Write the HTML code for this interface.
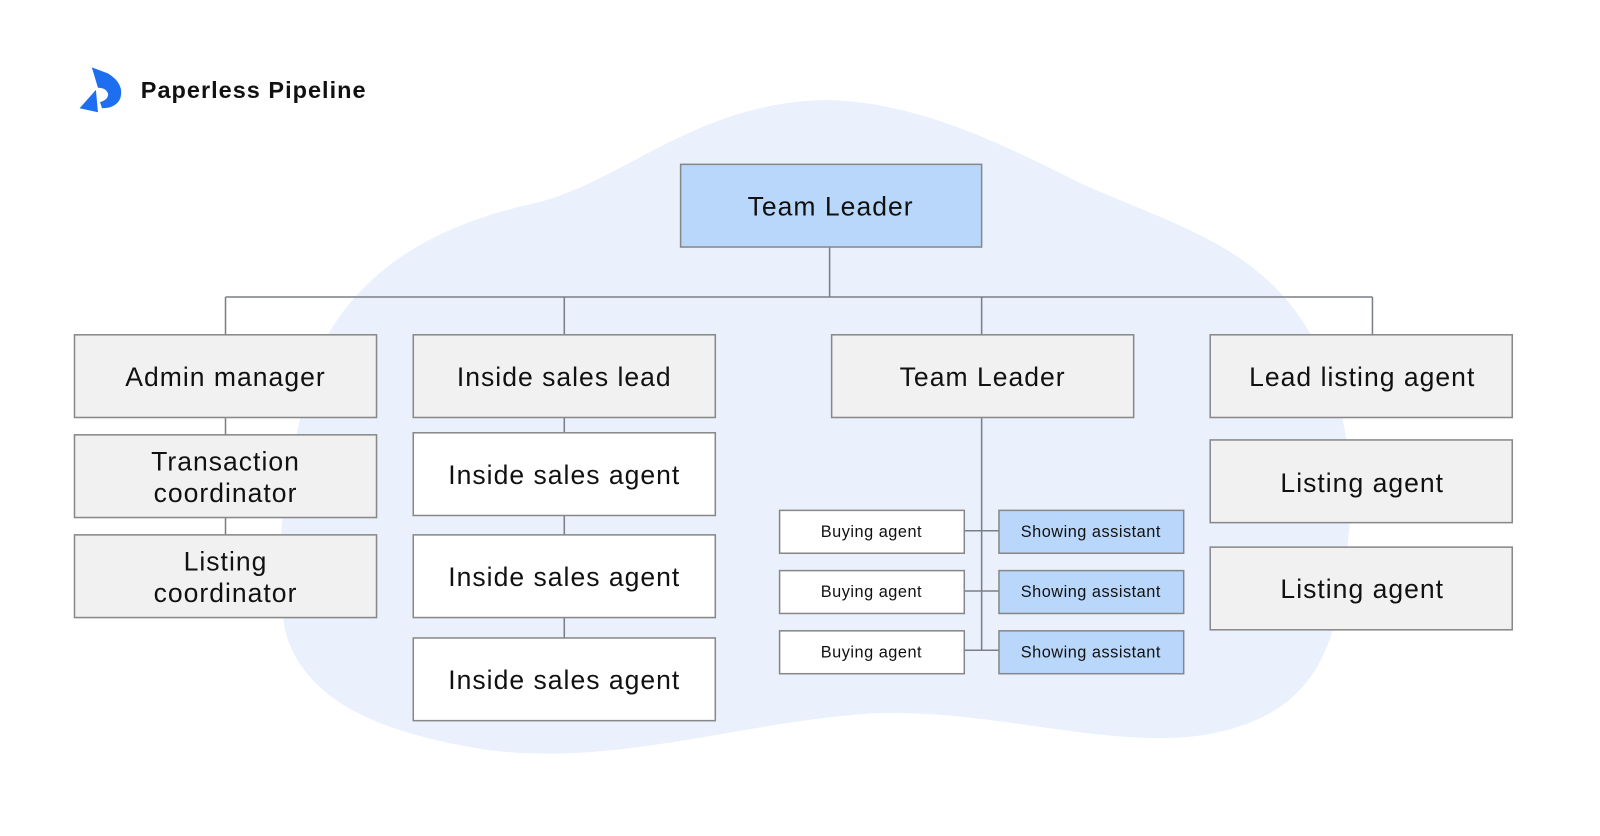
<!DOCTYPE html>
<html><head><meta charset="utf-8"><style>
html,body{margin:0;padding:0;background:#fff;}
svg{display:block}
text{font-family:"Liberation Sans",sans-serif;fill:#111;}
</style></head><body>
<svg width="1600" height="836" viewBox="0 0 1568 819" preserveAspectRatio="none" xmlns="http://www.w3.org/2000/svg">
<path d="M810 98 C900 100 980 140 1060 180 C1150 220 1230 240 1280 320 C1320 390 1330 460 1320 540 C1310 620 1300 700 1180 720 C1080 735 960 690 840 700 C720 710 600 750 480 735 C380 720 300 690 280 620 C265 550 280 430 320 330 C360 260 430 220 520 200 C610 180 680 100 810 98 Z" fill="#eaf1fd"/>
<g stroke="#7a7f87" stroke-width="1.5" fill="none">
<line x1="813" y1="242" x2="813" y2="291"/>
<line x1="221" y1="291" x2="1345" y2="291"/>
<line x1="221" y1="291" x2="221" y2="328"/>
<line x1="553" y1="291" x2="553" y2="328"/>
<line x1="962" y1="291" x2="962" y2="328"/>
<line x1="1345" y1="291" x2="1345" y2="328"/>
<line x1="221" y1="409" x2="221" y2="524"/>
<line x1="553" y1="409" x2="553" y2="625"/>
<line x1="962" y1="409" x2="962" y2="637"/>
<line x1="945" y1="520" x2="979" y2="520"/>
<line x1="945" y1="579" x2="979" y2="579"/>
<line x1="945" y1="637" x2="979" y2="637"/>
</g>
<g stroke="#888" stroke-width="1.5">
<rect x="667" y="161" width="295" height="81" fill="#b9d7fb"/>
<rect x="73" y="328" width="296" height="81" fill="#f1f1f1"/>
<rect x="405" y="328" width="296" height="81" fill="#f1f1f1"/>
<rect x="815" y="328" width="296" height="81" fill="#f1f1f1"/>
<rect x="1186" y="328" width="296" height="81" fill="#f1f1f1"/>
<rect x="73" y="426" width="296" height="81" fill="#f1f1f1"/>
<rect x="73" y="524" width="296" height="81" fill="#f1f1f1"/>
<rect x="405" y="424" width="296" height="81" fill="#fff"/>
<rect x="405" y="524" width="296" height="81" fill="#fff"/>
<rect x="405" y="625" width="296" height="81" fill="#fff"/>
<rect x="1186" y="431" width="296" height="81" fill="#f1f1f1"/>
<rect x="1186" y="536" width="296" height="81" fill="#f1f1f1"/>
<rect x="764" y="500" width="181" height="42" fill="#fff"/>
<rect x="764" y="559" width="181" height="42" fill="#fff"/>
<rect x="764" y="618" width="181" height="42" fill="#fff"/>
<rect x="979" y="500" width="181" height="42" fill="#b9d7fb"/>
<rect x="979" y="559" width="181" height="42" fill="#b9d7fb"/>
<rect x="979" y="618" width="181" height="42" fill="#b9d7fb"/>
</g>
<g font-size="26" text-anchor="middle" style="letter-spacing:1px">
<text x="814" y="211">Team Leader</text>
<text x="221" y="378">Admin manager</text>
<text x="553" y="378">Inside sales lead</text>
<text x="963" y="378">Team Leader</text>
<text x="1335" y="378">Lead listing agent</text>
<text x="221" y="461">Transaction</text>
<text x="221" y="492">coordinator</text>
<text x="221" y="559">Listing</text>
<text x="221" y="590">coordinator</text>
<text x="553" y="474">Inside sales agent</text>
<text x="553" y="574">Inside sales agent</text>
<text x="553" y="675">Inside sales agent</text>
<text x="1335" y="482">Listing agent</text>
<text x="1335" y="586">Listing agent</text>
</g>
<g font-size="16" text-anchor="middle" style="letter-spacing:0.5px">
<text x="854" y="526">Buying agent</text>
<text x="854" y="585">Buying agent</text>
<text x="854" y="644">Buying agent</text>
<text x="1069" y="526">Showing assistant</text>
<text x="1069" y="585">Showing assistant</text>
<text x="1069" y="644">Showing assistant</text>
</g>
<path d="M90 66 L106 72 Q122 82 118 96 Q114 106 100 106 L98 100 Q106 98 106 92 Q104 86 96 86 Z" fill="#1e6ef0"/>
<path d="M94 88 L96 110 L78 106 Z" fill="#1e6ef0"/>
<text x="138" y="96" font-size="23" font-weight="bold" style="letter-spacing:1px">Paperless Pipeline</text>
</svg>
</body></html>
